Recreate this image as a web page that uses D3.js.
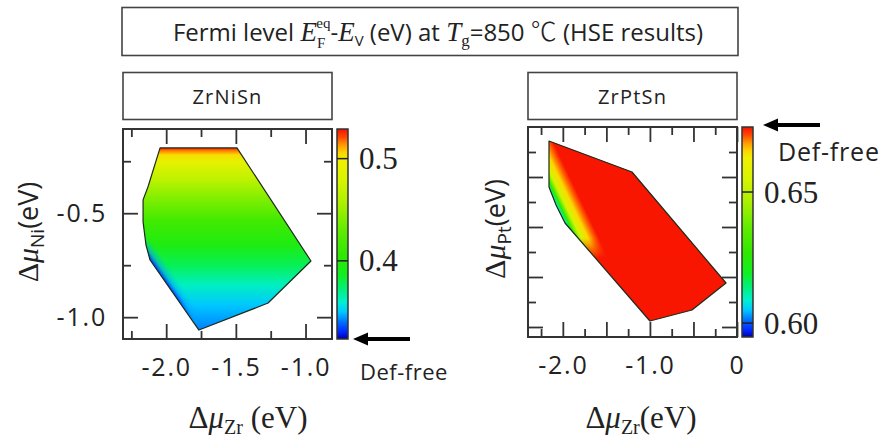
<!DOCTYPE html>
<html><head><meta charset="utf-8">
<script src="https://cdn.jsdelivr.net/npm/d3@7"></script>
<style>body{margin:0;background:#fff}svg{display:block}</style>
</head><body>
<script>
// ---------- data ----------
// shared colormap (position 0 = bottom of colorbar, 1 = top)
const cmapPos = [0, 0.029, 0.081, 0.129, 0.176, 0.233, 0.305, 0.40, 0.519, 0.638, 0.757, 0.852, 0.89, 0.924, 0.962, 1];
const cmapCol = ["#00009a","#0020ff","#0070ff","#00c8ff","#00f0d0","#00f080","#10f020","#30e800","#60ec00","#a8f000","#d8f400","#f0f000","#ffd000","#ff9800","#ff4800","#f81000"];

// ZrNiSn
const niRange = [0.3235, 0.529];
const niTicks = [0.4, 0.5];
const niXDomain = [-2.31, -0.81];
const niYDomain = [-0.095, -1.105];
const niXMajor = [-2.0, -1.5, -1.0];
const niXMinor = [-2.25, -1.75, -1.25];
const niYMajor = [-0.5, -1.0];
const niYMinor = [-0.25, -0.75];
const niPolyZr = [-2.044, -2.131, -2.166, -2.166, -2.145, -2.116, -1.765, -1.269, -0.961, -1.492];
const niPolyNi = [-0.186, -0.374, -0.436, -0.542, -0.653, -0.725, -1.062, -0.932, -0.730, -0.186];
const niProfileMu = [-0.186, -0.201, -0.220, -0.254, -0.340, -0.436, -0.533, -0.653, -0.749, -0.845, -0.941, -1.062];
const niProfileEF = [0.527, 0.515, 0.503, 0.490, 0.465, 0.440, 0.415, 0.395, 0.378, 0.362, 0.350, 0.342];
const niEdgeZr = [-2.128, -2.045];
const niEdgeNi = [-0.730, -0.692];
const niEdgeOff = [0, 0.2, 0.5, 1];
const niEdgeEF = [0.3235, 0.333, 0.345, 0.35];
const niEdgeOp = [1, 0.9, 0.5, 0];
const niEdgeMaskNi = [-0.590, -0.667, -0.917, -1.023];
const niEdgeMaskOp = [0, 1, 1, 0];

// ZrPtSn
const ptRange = [0.5947, 0.6748];
const ptTicks = [0.60, 0.65];
const ptXDomain = [-2.4, 0];
const ptYDomain = [0, -2.1];
const ptXMajor = [-2.0, -1.5, -1.0, -0.5, 0];
const ptXMinor = [-2.25, -1.75, -1.25, -0.75, -0.25];
const ptXLabels = [-2.0, -1.0, 0];
const ptYMajor = [-0.5, -1.0, -1.5, -2.0];
const ptYMinor = [-0.25, -0.75, -1.25, -1.75];
const ptPolyZr = [-2.159, -1.206, -0.126, -0.517, -1.0, -1.975, -2.078, -2.159];
const ptPolyPt = [-0.14, -0.45, -1.56, -1.83, -1.94, -0.96, -0.78, -0.60];
const ptBulkEF = 0.6745;
const ptBandZr = [-2.214, -1.903];
const ptBandPt = [-0.66, -0.531];
const ptBandOff = [0, 0.1, 0.2, 0.3, 0.467, 0.667, 0.867, 1];
const ptBandEF = [0.597, 0.600, 0.610, 0.625, 0.655, 0.665, 0.671, 0.6745];
const ptBandMaskPt = [-1.11, -1.31];
const ptBandMaskOp = [1, 0];

// ---------- drawing ----------
const W = 883, H = 440;
const SANS = "'Open Sans', 'Noto Sans', sans-serif";
const SERIF = "'Liberation Serif', 'Times New Roman', serif";
const svg = d3.select("body").append("svg").attr("width", W).attr("height", H);
const defs = svg.append("defs");
const cmap = d3.scaleLinear().domain(cmapPos).range(cmapCol).interpolate(d3.interpolateRgb);
const hy = (v, n) => v.toFixed(n);   // plain hyphen minus like the original

// title box
svg.append("rect").attr("x", 122).attr("y", 7.5).attr("width", 616).attr("height", 48)
  .attr("fill", "none").attr("stroke", "#444").attr("stroke-width", 1.6);
const tt = svg.append("text").attr("x", 438).attr("y", 41).attr("text-anchor", "middle")
  .attr("font-family", SANS).attr("font-size", 24).attr("fill", "#222");
tt.append("tspan").text("Fermi level ");
tt.append("tspan").attr("font-family", SERIF).attr("font-style", "italic").attr("font-size", 27).text("E");
tt.append("tspan").attr("font-family", SERIF).attr("font-size", 15).attr("dy", 7).text("F");
tt.append("tspan").attr("font-family", SERIF).attr("font-size", 15).attr("dx", -9).attr("dy", -20).text("eq");
tt.append("tspan").attr("dy", 13).text("-");
tt.append("tspan").attr("font-family", SERIF).attr("font-style", "italic").attr("font-size", 27).text("E");
tt.append("tspan").attr("font-size", 15).attr("dy", 5).text("V");
tt.append("tspan").attr("dy", -5).text(" (eV) at ");
tt.append("tspan").attr("font-family", SERIF).attr("font-style", "italic").attr("font-size", 27).text("T");
tt.append("tspan").attr("font-family", SERIF).attr("font-size", 17).attr("dy", 5).text("g");
tt.append("tspan").attr("dy", -5).text("=850 ");
tt.append("tspan").attr("font-family", "'Noto Sans CJK SC', 'DejaVu Sans', sans-serif").attr("font-weight", 300).attr("font-size", 26).text("℃");
tt.append("tspan").text(" (HSE results)");

function panel(cfg) {
  const x = d3.scaleLinear().domain(cfg.xDomain).range([cfg.left, cfg.right]);
  const y = d3.scaleLinear().domain(cfg.yDomain).range([cfg.top, cfg.bottom]);
  const g = svg.append("g");
  const id = cfg.id;
  const col = v => cmap((v - cfg.range[0]) / (cfg.range[1] - cfg.range[0]));

  // name box
  g.append("rect").attr("x", cfg.left).attr("y", 72.5).attr("width", cfg.right - cfg.left).attr("height", 47)
    .attr("fill", "none").attr("stroke", "#444").attr("stroke-width", 1.6);
  g.append("text").attr("x", (cfg.left + cfg.right) / 2).attr("y", 103.5).attr("text-anchor", "middle")
    .attr("font-family", SANS).attr("font-size", 20).attr("letter-spacing", 1.2).attr("fill", "#222").text(cfg.name);

  const pts = cfg.polyX.map((d, i) => [x(d), y(cfg.polyY[i])]);
  const line = d3.line();

  cfg.fill(g, x, y, col, pts, line);

  g.append("path").attr("d", line(pts) + "Z").attr("fill", "none")
    .attr("stroke", "#1d2b1d").attr("stroke-width", 1.2).attr("stroke-linejoin", "round");

  // axes (inward ticks)
  g.append("g").attr("transform", `translate(0,${cfg.bottom})`)
    .call(d3.axisBottom(x).tickValues(cfg.xMajor).tickSize(-15).tickPadding(19)
      .tickFormat(d => cfg.xLabels.includes(d) ? (d === 0 ? "0" : hy(d, 1)) : ""));
  g.append("g").attr("transform", `translate(0,${cfg.bottom})`)
    .call(d3.axisBottom(x).tickValues(cfg.xMinor).tickSize(-8).tickFormat(""));
  g.append("g").attr("transform", `translate(0,${cfg.top})`)
    .call(d3.axisTop(x).tickValues(cfg.xMajor).tickSize(-15).tickFormat(""));
  g.append("g").attr("transform", `translate(0,${cfg.top})`)
    .call(d3.axisTop(x).tickValues(cfg.xMinor).tickSize(-8).tickFormat(""));
  g.append("g").attr("transform", `translate(${cfg.left},0)`)
    .call(d3.axisLeft(y).tickValues(cfg.yMajor).tickSize(-15).tickPadding(16)
      .tickFormat(d => cfg.yLabels ? hy(d, 1) : ""));
  g.append("g").attr("transform", `translate(${cfg.left},0)`)
    .call(d3.axisLeft(y).tickValues(cfg.yMinor).tickSize(-8).tickFormat(""));
  g.append("g").attr("transform", `translate(${cfg.right},0)`)
    .call(d3.axisRight(y).tickValues(cfg.yMajor).tickSize(-15).tickFormat(""));
  g.append("g").attr("transform", `translate(${cfg.right},0)`)
    .call(d3.axisRight(y).tickValues(cfg.yMinor).tickSize(-8).tickFormat(""));
  g.selectAll(".domain").remove();
  g.selectAll(".tick line").attr("stroke", "#333").attr("stroke-width", 1.8);
  g.selectAll(".tick text").attr("font-family", SANS).attr("font-size", 25)
    .attr("letter-spacing", 1.8).attr("fill", "#222");
  g.append("rect").attr("x", cfg.left).attr("y", cfg.top).attr("width", cfg.right - cfg.left)
    .attr("height", cfg.bottom - cfg.top).attr("fill", "none").attr("stroke", "#333").attr("stroke-width", 2);

  // colorbar
  const cb = d3.scaleLinear().domain(cfg.range).range([cfg.bottom, cfg.top]);
  const gid = id + "cb";
  const lg = defs.append("linearGradient").attr("id", gid).attr("x1", 0).attr("y1", 1).attr("x2", 0).attr("y2", 0);
  cmapPos.forEach((p, i) => lg.append("stop").attr("offset", p).attr("stop-color", cmapCol[i]));
  g.append("rect").attr("x", cfg.cbX).attr("y", cfg.top).attr("width", 11).attr("height", cfg.bottom - cfg.top)
    .attr("fill", `url(#${gid})`).attr("stroke", "#333").attr("stroke-width", 1.5);
  cfg.cbTicks.forEach(v => {
    g.append("line").attr("x1", cfg.cbX).attr("x2", cfg.cbX + 11).attr("y1", cb(v)).attr("y2", cb(v))
      .attr("stroke", "#222").attr("stroke-width", 1.5);
    g.append("text").attr("x", cfg.cbX + 22).attr("y", cb(v)).attr("dy", "0.34em")
      .attr("font-family", SERIF).attr("font-size", 31).attr("fill", "#222").text(cfg.cbFmt(v));
  });

  // arrow + label
  const ay = cfg.arrowY;
  g.append("line").attr("x1", cfg.arrowX + 12).attr("x2", cfg.arrowX + 57).attr("y1", ay).attr("y2", ay)
    .attr("stroke", "#000").attr("stroke-width", 4);
  g.append("path").attr("d", `M${cfg.arrowX},${ay} L${cfg.arrowX + 15},${ay - 6.5} L${cfg.arrowX + 15},${ay + 6.5} Z`).attr("fill", "#000");
  g.append("text").attr("x", cfg.defX).attr("y", cfg.defY).attr("font-family", SANS)
    .attr("font-size", cfg.defSize).attr("letter-spacing", cfg.defSpacing).attr("fill", "#222").text("Def-free");

  // axis titles
  const xt = g.append("text").attr("x", cfg.xtX).attr("y", 428).attr("text-anchor", "middle")
    .attr("font-family", SERIF).attr("font-size", 31).attr("fill", "#222");
  xt.append("tspan").text("Δ");
  xt.append("tspan").attr("font-style", "italic").text("μ");
  xt.append("tspan").attr("font-size", 20).attr("dy", 6).text("Zr");
  xt.append("tspan").attr("dy", -6).text(cfg.xtSpace ? " (eV)" : "(eV)");

  const yt = g.append("text").attr("transform", `translate(${cfg.ytX},${cfg.ytY}) rotate(-90)`)
    .attr("text-anchor", "middle").attr("font-family", SERIF).attr("font-size", 30).attr("fill", "#222");
  yt.append("tspan").text("Δ");
  yt.append("tspan").attr("font-style", "italic").text("μ");
  yt.append("tspan").attr("font-family", SANS).attr("font-size", 19).attr("dy", 6).text(cfg.sub);
  yt.append("tspan").attr("font-family", SANS).attr("font-size", 27).attr("dy", -6).text("(eV)");
}

// ---- ZrNiSn ----
panel({
  id: "ni", name: "ZrNiSn", left: 123, right: 332, top: 129, bottom: 339,
  xDomain: niXDomain, yDomain: niYDomain, xMajor: niXMajor, xMinor: niXMinor, xLabels: niXMajor,
  yMajor: niYMajor, yMinor: niYMinor, yLabels: true,
  polyX: niPolyZr, polyY: niPolyNi, range: niRange, cbX: 337, cbTicks: niTicks, cbFmt: v => v.toFixed(1),
  arrowX: 353, arrowY: 339, defX: 360, defY: 380, defSize: 22, defSpacing: 0.5,
  xtX: 248, xtSpace: true, ytX: 38, ytY: 232, sub: "Ni",
  fill: (g, x, y, col, pts, line) => {
    const gid = "niMain";
    const y1 = y(niProfileMu[0]), y2 = y(niProfileMu[niProfileMu.length - 1]);
    const lg = defs.append("linearGradient").attr("id", gid).attr("gradientUnits", "userSpaceOnUse")
      .attr("x1", 0).attr("x2", 0).attr("y1", y1).attr("y2", y2);
    niProfileMu.forEach((m, i) => lg.append("stop").attr("offset", (y(m) - y1) / (y2 - y1)).attr("stop-color", col(niProfileEF[i])));
    g.append("path").attr("d", line(pts) + "Z").attr("fill", `url(#${gid})`);
    // blue tint along lower-left edge
    const eg = defs.append("linearGradient").attr("id", "niEdge").attr("gradientUnits", "userSpaceOnUse")
      .attr("x1", x(niEdgeZr[0])).attr("y1", y(niEdgeNi[0])).attr("x2", x(niEdgeZr[1])).attr("y2", y(niEdgeNi[1]));
    niEdgeOff.forEach((o, i) => eg.append("stop").attr("offset", o).attr("stop-color", col(niEdgeEF[i])).attr("stop-opacity", niEdgeOp[i]));
    const my1 = y(niEdgeMaskNi[0]), my2 = y(niEdgeMaskNi[niEdgeMaskNi.length - 1]);
    const mg = defs.append("linearGradient").attr("id", "niMaskG").attr("gradientUnits", "userSpaceOnUse")
      .attr("x1", 0).attr("x2", 0).attr("y1", my1).attr("y2", my2);
    niEdgeMaskNi.forEach((m, i) => mg.append("stop").attr("offset", (y(m) - my1) / (my2 - my1)).attr("stop-color", "#fff").attr("stop-opacity", niEdgeMaskOp[i]));
    defs.append("mask").attr("id", "niMask").attr("maskUnits", "userSpaceOnUse")
      .attr("x", 0).attr("y", 0).attr("width", W).attr("height", H)
      .append("rect").attr("x", 0).attr("y", 0).attr("width", W).attr("height", H).attr("fill", "url(#niMaskG)");
    g.append("path").attr("d", line(pts) + "Z").attr("fill", "url(#niEdge)").attr("mask", "url(#niMask)");
  }
});

// ---- ZrPtSn ----
panel({
  id: "pt", name: "ZrPtSn", left: 528, right: 737, top: 127, bottom: 337,
  xDomain: ptXDomain, yDomain: ptYDomain, xMajor: ptXMajor, xMinor: ptXMinor, xLabels: ptXLabels,
  yMajor: ptYMajor, yMinor: ptYMinor, yLabels: false,
  polyX: ptPolyZr, polyY: ptPolyPt, range: ptRange, cbX: 742, cbTicks: ptTicks, cbFmt: v => v.toFixed(2),
  arrowX: 763, arrowY: 125, defX: 778, defY: 161, defSize: 25, defSpacing: 0.8,
  xtX: 641, xtSpace: false, ytX: 505, ytY: 229, sub: "Pt",
  fill: (g, x, y, col, pts, line) => {
    g.append("path").attr("d", line(pts) + "Z").attr("fill", col(ptBulkEF));
    const bg = defs.append("linearGradient").attr("id", "ptBand").attr("gradientUnits", "userSpaceOnUse")
      .attr("x1", x(ptBandZr[0])).attr("y1", y(ptBandPt[0])).attr("x2", x(ptBandZr[1])).attr("y2", y(ptBandPt[1]));
    ptBandOff.forEach((o, i) => bg.append("stop").attr("offset", o).attr("stop-color", col(ptBandEF[i])));
    const my1 = y(ptBandMaskPt[0]), my2 = y(ptBandMaskPt[1]);
    const mg = defs.append("linearGradient").attr("id", "ptMaskG").attr("gradientUnits", "userSpaceOnUse")
      .attr("x1", 0).attr("x2", 0).attr("y1", my1).attr("y2", my2);
    ptBandMaskPt.forEach((m, i) => mg.append("stop").attr("offset", i).attr("stop-color", "#fff").attr("stop-opacity", ptBandMaskOp[i]));
    defs.append("mask").attr("id", "ptMask").attr("maskUnits", "userSpaceOnUse")
      .attr("x", 0).attr("y", 0).attr("width", W).attr("height", H)
      .append("rect").attr("x", 0).attr("y", 0).attr("width", W).attr("height", H).attr("fill", "url(#ptMaskG)");
    g.append("path").attr("d", line(pts) + "Z").attr("fill", "url(#ptBand)").attr("mask", "url(#ptMask)");
  }
});
</script>
</body></html>
